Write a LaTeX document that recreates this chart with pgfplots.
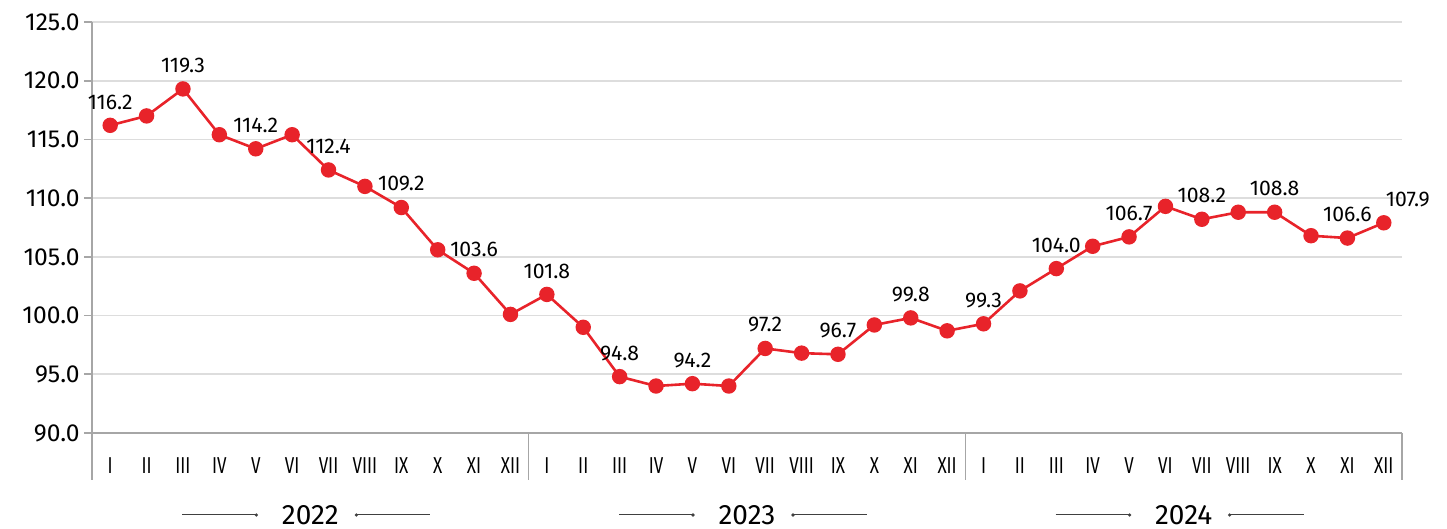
\documentclass[border=0pt]{standalone}
\usepackage{pgfplots}
\pgfplotsset{compat=1.18}
\usepackage{pgfplotstable}
\usepackage{fontspec}
\setmainfont{Fira Sans}
\usepackage{graphicx}
\definecolor{lred}{HTML}{E8232A}
\definecolor{axgray}{HTML}{A6A6A6}
\definecolor{gridc}{HTML}{DDDDDD}
\newcommand\mon[1]{\scalebox{0.74}[1]{#1}}

\pgfplotstableread{
x y
0 116.2
1 117.0
2 119.3
3 115.4
4 114.2
5 115.4
6 112.4
7 111.0
8 109.2
9 105.6
10 103.6
11 100.1
12 101.8
13 99.0
14 94.8
15 94.0
16 94.2
17 94.0
18 97.2
19 96.8
20 96.7
21 99.2
22 99.8
23 98.7
24 99.3
25 102.1
26 104.0
27 105.9
28 106.7
29 109.3
30 108.2
31 108.8
32 108.8
33 106.8
34 106.6
35 107.9
}\data

\pgfplotstableread{
x y
0 116.2
2 119.3
4 114.2
6 112.4
8 109.2
10 103.6
12 101.8
14 94.8
16 94.2
18 97.2
20 96.7
22 99.8
24 99.3
26 104.0
28 106.7
30 108.2
32 108.8
34 106.6
}\labs

\pgfplotstableread{
x y
35 107.9
}\lablast

\begin{document}
\begin{tikzpicture}
\begin{axis}[name=ax, scale only axis, width=655pt, height=205.5pt,
  xmin=-0.5, xmax=35.5, ymin=90, ymax=125, clip=false,
  axis x line*=bottom, axis y line*=left,
  axis line style={axgray, line width=0.8pt},
  ytick={90,95,...,125}, ymajorgrids,
  grid style={gridc, line width=0.8pt},
  tick align=outside, ytick pos=left,
  major tick length=4pt,
  y tick style={axgray, line width=0.8pt},
  x tick style={draw=none},
  yticklabel style={/pgf/number format/.cd, fixed, fixed zerofill, precision=1, assume math mode=true, /tikz/.cd,
     font=\fontsize{12.3}{14}\selectfont, inner sep=2pt},
  xtick={0,...,35},
  xticklabels={\mon{I},\mon{II},\mon{III},\mon{IV},\mon{V},\mon{VI},\mon{VII},\mon{VIII},\mon{IX},\mon{X},\mon{XI},\mon{XII},
               \mon{I},\mon{II},\mon{III},\mon{IV},\mon{V},\mon{VI},\mon{VII},\mon{VIII},\mon{IX},\mon{X},\mon{XI},\mon{XII},
               \mon{I},\mon{II},\mon{III},\mon{IV},\mon{V},\mon{VI},\mon{VII},\mon{VIII},\mon{IX},\mon{X},\mon{XI},\mon{XII}},
  xticklabel style={font=\fontsize{11.5}{13}\selectfont, yshift=-5pt},
]
\addplot[lred, line width=1.3pt, mark=*, mark size=3.2pt, mark options={fill=lred, draw=lred}] table[x=x,y=y] {\data};
\addplot[draw=none, mark=none, nodes near coords, point meta=y,
  nodes near coords style={/pgf/number format/.cd, fixed, fixed zerofill, precision=1, assume math mode=true, /tikz/.cd,
    font=\fontsize{10.6}{12}\selectfont, text=black, anchor=south, yshift=4.5pt}] table[x=x,y=y] {\labs};
\addplot[draw=none, mark=none, nodes near coords, point meta=y,
  nodes near coords style={/pgf/number format/.cd, fixed, fixed zerofill, precision=1, assume math mode=true, /tikz/.cd,
    font=\fontsize{10.6}{12}\selectfont, text=black, anchor=south, yshift=4.5pt, xshift=12pt}] table[x=x,y=y] {\lablast};
\foreach \s in {-0.5,11.5,23.5,35.5} {
  \edef\tmp{\noexpand\draw[axgray, line width=0.8pt] (axis cs:\s,90) -- ([yshift=-23.5pt]axis cs:\s,90);}\tmp
}
\foreach \c/\yr in {5.5/2022,17.5/2023,29.5/2024} {
  \edef\tmp{\noexpand\node[font=\noexpand\fontsize{14}{16}\noexpand\selectfont, inner sep=0pt] at ([yshift=-41pt]axis cs:\c,90) {\yr};
  \noexpand\draw[black!75, line width=0.5pt] ([xshift=-64pt,yshift=-41pt]axis cs:\c,90) -- ([xshift=-27pt,yshift=-41pt]axis cs:\c,90);
  \noexpand\fill[black!75] ([xshift=-27pt,yshift=-41pt]axis cs:\c,90) circle (0.9pt);
  \noexpand\draw[black!75, line width=0.5pt] ([xshift=23pt,yshift=-41pt]axis cs:\c,90) -- ([xshift=60pt,yshift=-41pt]axis cs:\c,90);
  \noexpand\fill[black!75] ([xshift=23pt,yshift=-41pt]axis cs:\c,90) circle (0.9pt);}\tmp
}
\end{axis}
\pgfresetboundingbox
\path ([xshift=-46pt,yshift=-48pt]ax.south west) rectangle ([xshift=22.5pt,yshift=11pt]ax.north east);
\end{tikzpicture}
\end{document}
